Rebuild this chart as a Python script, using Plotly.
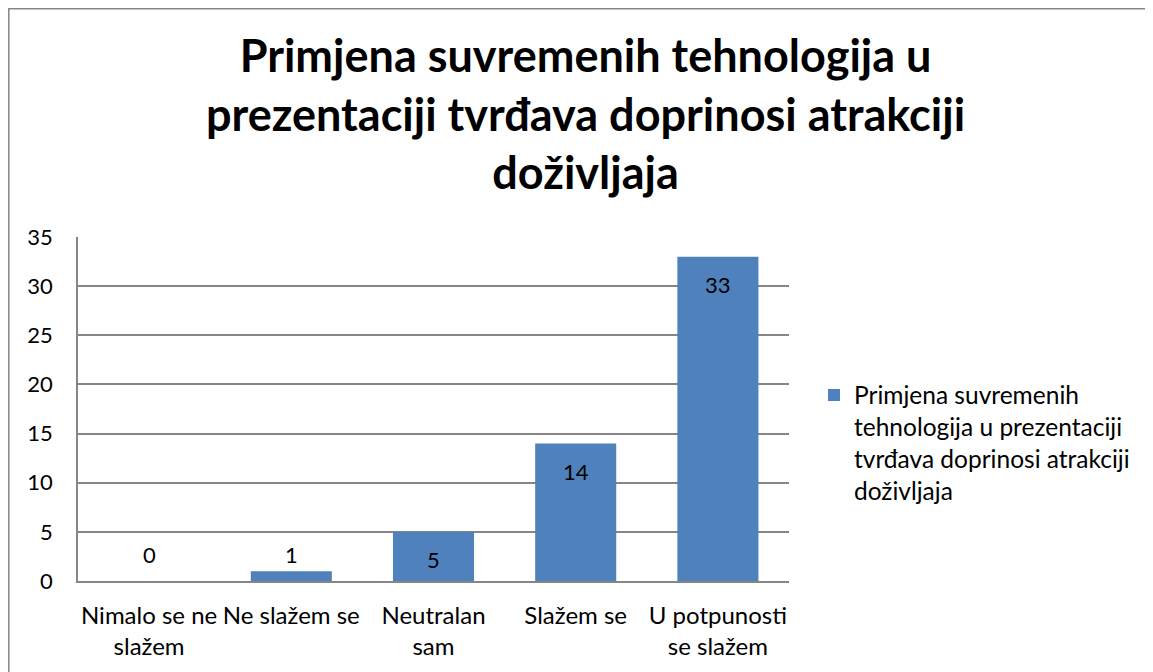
import plotly.graph_objects as go

categories = ["Nimalo se ne<br>slažem", "Ne slažem se", "Neutralan<br>sam", "Slažem se", "U potpunosti<br>se slažem"]
values = [0, 1, 5, 14, 33]
series_name = "Primjena suvremenih<br>tehnologija u prezentaciji<br>tvrđava doprinosi atrakciji<br>doživljaja"
title_text = "Primjena suvremenih tehnologija u<br>prezentaciji tvrđava doprinosi atrakciji<br>doživljaja"
y_ticks = [0, 5, 10, 15, 20, 25, 30, 35]

FONT = "Lato"
BAR = "#4F81BD"
GRID = "#868686"

# page offset of 8px (body margin) is compensated in the figure size/margins
PX0, PY0, PW, PH = 78, 581, 711, 344  # plot area in page pixels (left, bottom, width, height)


def px(x):
    return (x - PX0) / PW


def py(y):
    return (PY0 - y) / PH


fig = go.Figure()
fig.add_trace(go.Bar(
    x=categories, y=values, name=series_name,
    marker=dict(color=BAR, line=dict(width=0)),
    showlegend=True,
))

# data labels (Excel "inside end" style, kept near the axis for tiny bars)
for c, v in zip(categories, values):
    if v >= 5:
        fig.add_annotation(x=c, y=v, text=str(v), showarrow=False, yshift=-28,
                           yanchor="middle", font=dict(family=FONT, size=22, color="black"))
    else:
        fig.add_annotation(x=c, y=0, text=str(v), showarrow=False, yshift=27,
                           yanchor="middle", font=dict(family=FONT, size=22, color="black"))

# title
fig.add_annotation(x=px(585), y=py(26), xref="paper", yref="paper", text=title_text,
                   showarrow=False, xanchor="center", yanchor="top", align="center",
                   font=dict(family=FONT, size=45, color="black", weight="bold"))

fig.update_layout(
    width=1145, height=664,
    paper_bgcolor="white", plot_bgcolor="white",
    margin=dict(l=70, r=364, t=229, b=91),
    font=dict(family=FONT, color="black", size=22),
    bargap=0.43,
    legend=dict(x=px(814), y=py(443), xanchor="left", yanchor="middle", valign="top",
                font=dict(family=FONT, size=24.5, color="black"),
                itemwidth=30, bgcolor="rgba(0,0,0,0)"),
    xaxis=dict(showline=True, linecolor=GRID, linewidth=1.5, ticks="",
               tickfont=dict(family=FONT, size=24, color="black"),
               ticklabelstandoff=12, showgrid=False, fixedrange=True),
    yaxis=dict(range=[0, 35], tickvals=y_ticks, showgrid=True, gridcolor=GRID, gridwidth=1.5,
               showline=True, linecolor=GRID, linewidth=1.5, ticks="",
               tickfont=dict(family=FONT, size=22, color="black"),
               ticklabelstandoff=19, zeroline=False, fixedrange=True),
)

# chart-area border
fig.add_shape(type="rect", xref="paper", yref="paper",
              x0=px(8.8), x1=px(1150), y0=py(700), y1=py(8.8),
              line=dict(color=GRID, width=1.5), fillcolor="rgba(0,0,0,0)", layer="below")

fig.write_html("out.html")
